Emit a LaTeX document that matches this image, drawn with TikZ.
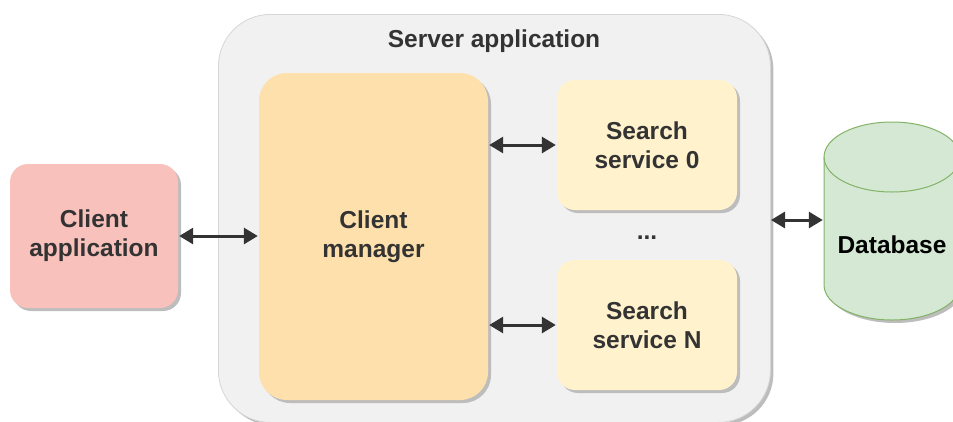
\documentclass[tikz,border=0pt]{standalone}
\usepackage{fontspec}
\setmainfont{Liberation Sans}
\usetikzlibrary{shadows,arrows.meta}
\definecolor{txt}{HTML}{333333}
\definecolor{clientfill}{HTML}{F8C1BB}
\definecolor{serverfill}{HTML}{F1F1F1}
\definecolor{serverline}{HTML}{D6D6D6}
\definecolor{mgrfill}{HTML}{FEE0AC}
\definecolor{svcfill}{HTML}{FFF2CC}
\definecolor{dbfill}{HTML}{D5E8D4}
\definecolor{dbline}{HTML}{82B366}
\definecolor{shadowc}{HTML}{BDBDBD}
\tikzset{
  shd/.style={drop shadow={shadow xshift=3pt, shadow yshift=-3pt, fill=shadowc, opacity=1}},
  boxlabel/.style={font=\bfseries\fontsize{24.5}{29}\selectfont, text=txt, align=center},
  blockbox/.style={rectangle, shd, boxlabel, inner sep=0pt},
  link/.style={draw=txt, line width=3pt, {Triangle[length=14pt,width=16pt]}-{Triangle[length=14pt,width=16pt]}, shorten <=1pt, shorten >=1pt}
}
\begin{document}
\begin{tikzpicture}[x=1pt,y=1pt]
\useasboundingbox (0,0) rectangle (953,-421);
\clip (0,0) rectangle (953,-421);
% server application container
\node[blockbox, fill=serverfill, draw=serverline, line width=0.8pt, rounded corners=52pt,
      minimum width=552pt, minimum height=408pt, anchor=north west] (server) at (218,-14) {};
\node[boxlabel, anchor=center] (servertitle) at (494,-41) {Server application};
% client application
\node[blockbox, fill=clientfill, rounded corners=18pt,
      minimum width=168pt, minimum height=144pt] (client) at (94,-236) {Client\\application};
% client manager
\node[blockbox, fill=mgrfill, rounded corners=28pt,
      minimum width=229pt, minimum height=327pt] (mgr) at (373.5,-236.5) {Client\\manager};
% search services
\node[blockbox, fill=svcfill, rounded corners=18pt,
      minimum width=180pt, minimum height=130pt] (ss0) at (647,-145) {Search\\service 0};
\node[blockbox, fill=svcfill, rounded corners=18pt,
      minimum width=180pt, minimum height=130pt] (ssn) at (647,-325) {Search\\service N};
\node[boxlabel] (dots) at (647,-238) {...};
% database cylinder
\node[rectangle, minimum width=136pt, minimum height=198pt, inner sep=0pt] (db) at (892,-221) {};
\fill[shadowc, shift={(3,-3)}] (824,-157) -- (824,-285) arc[start angle=180, end angle=360, x radius=68, y radius=35]
   -- (960,-157) arc[start angle=0, end angle=180, x radius=68, y radius=35] -- cycle;
\filldraw[fill=dbfill, draw=dbline, line width=1pt] (824,-157) -- (824,-285) arc[start angle=180, end angle=360, x radius=68, y radius=35]
   -- (960,-157) arc[start angle=0, end angle=180, x radius=68, y radius=35] -- cycle;
\draw[dbline, line width=1pt] (824,-157) arc[start angle=180, end angle=360, x radius=68, y radius=35];
\node[font=\bfseries\fontsize{24.5}{29}\selectfont, text=black] (dblabel) at (892,-245) {Database};
% connectors
\draw[link] (client.east) -- (client.east -| mgr.west);
\draw[link] (ss0.west -| mgr.east) -- (ss0.west);
\draw[link] (ssn.west -| mgr.east) -- (ssn.west);
\coordinate (srvport) at (770,-220);
\draw[link] (srvport) -- (srvport -| db.west);
\end{tikzpicture}
\end{document}
